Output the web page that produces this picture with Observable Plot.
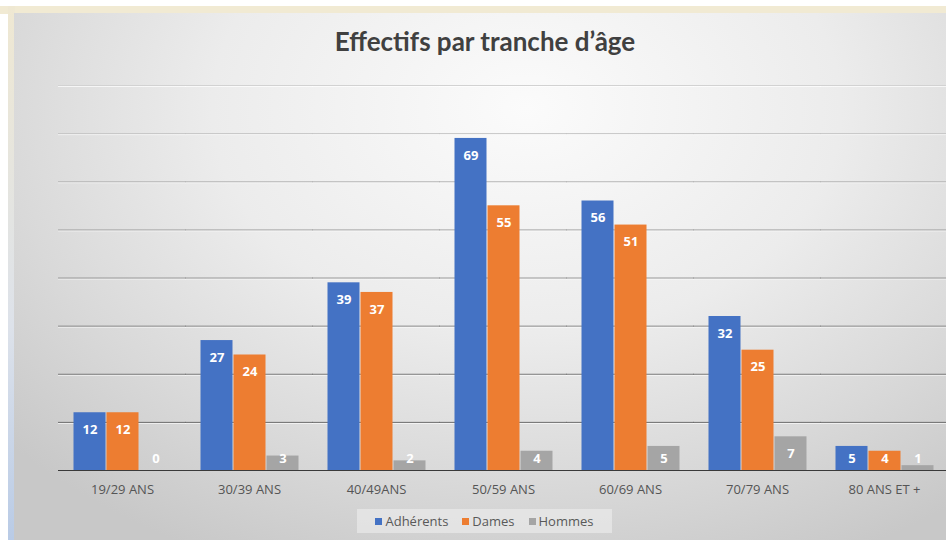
<!DOCTYPE html>
<html>
<head>
<meta charset="utf-8">
<script src="https://cdn.jsdelivr.net/npm/d3@7"></script>
<script src="https://cdn.jsdelivr.net/npm/@observablehq/plot@0.6"></script>
<style>
  html, body { margin: 0; padding: 0; background: #ffffff; }
  #wrap { position: relative; width: 946px; height: 540px; overflow: hidden; background: #ffffff; }
  #topband { position: absolute; left: 0; top: 6px; width: 946px; height: 8px; background: #f1ead3; }
  #leftband { position: absolute; left: 8px; top: 6px; width: 7px; height: 534px; background: linear-gradient(#efe8d2, #dde2ea 60%, #b9cbe6); }
  #panel { position: absolute; left: 14px; top: 13px; width: 932px; height: 527px;
    background: radial-gradient(ellipse 75% 95% at 55% 18%, #fbfbfb 0%, #ececec 45%, #d9d9d9 75%, #c8c8c8 100%); }
  #title { position: absolute; left: 0; top: 25px; width: 970px; text-align: center;
    font-family: Lato, "Open Sans", sans-serif; font-weight: bold; font-size: 26px; color: #404040; }
  #plot { position: absolute; left: 0; top: 0; }
  #legend { position: absolute; left: 357px; top: 509px; width: 255px; height: 24px; background: rgba(240,240,240,0.55);
    display: flex; align-items: center; justify-content: center; gap: 14px;
    font-family: "Open Sans", sans-serif; font-size: 13px; color: #595959; }
  #legend span.sw { display: inline-block; width: 7px; height: 7px; margin-right: 3px; vertical-align: middle; position: relative; top: -1px; }
</style>
</head>
<body>
<div id="wrap">
  <div id="topband"></div>
  <div id="leftband"></div>
  <div id="panel"></div>
  <div id="title">Effectifs par tranche d’âge</div>
  <div id="plot"></div>
  <div id="legend"></div>
</div>
<script>
const categories = ["19/29 ANS", "30/39 ANS", "40/49ANS", "50/59 ANS", "60/69 ANS", "70/79 ANS", "80 ANS ET +"];
const seriesNames = ["Adhérents", "Dames", "Hommes"];
const adherents = [12, 27, 39, 69, 56, 32, 5];
const dames = [12, 24, 37, 55, 51, 25, 4];
const hommes = [0, 3, 2, 4, 5, 7, 1];
const seriesColors = ["#4472c4", "#ed7d31", "#a5a5a5"];
const gridTicks = [10, 20, 30, 40, 50, 60, 70, 80];

const seriesValues = [adherents, dames, hommes];
const data = [];
categories.forEach((c, i) => {
  seriesNames.forEach((s, j) => data.push({age: c, series: s, v: seriesValues[j][i]}));
});

const gridShade = d3.interpolateRgb("#5e5e5e", "#d2d2d2");

const chart = Plot.plot({
  width: 946,
  height: 505,
  marginTop: 85,
  marginBottom: 35,
  marginLeft: 58,
  marginRight: -3,
  style: {background: "transparent", overflow: "visible"},
  fx: {domain: categories, paddingInner: 0.21, paddingOuter: 0.105, label: null},
  x: {domain: seriesNames, padding: 0, axis: null},
  y: {domain: [0, 80], axis: null},
  color: {domain: seriesNames, range: seriesColors},
  marks: [
    Plot.ruleY(gridTicks, {y: d => d, stroke: "#ffffff", strokeOpacity: 0.7, dy: 1, insetLeft: -14, insetRight: -14}),
    Plot.ruleY(gridTicks, {y: d => d, stroke: d => gridShade(d / 80), insetLeft: -14, insetRight: -14}),
    Plot.barY(data, {fx: "age", x: "series", y: "v", fill: "series", insetLeft: 0.5, insetRight: 0.5}),
    Plot.ruleY([0], {stroke: "#3a3a3a", strokeWidth: 1.2, insetLeft: -14, insetRight: -14}),
    Plot.text(data, {fx: "age", x: "series", y: d => Math.max(d.v, 6), dy: 17, text: "v",
      fill: "#ffffff", fontWeight: "bold", fontSize: 13, fontFamily: "Open Sans, sans-serif"}),
    Plot.axisFx({anchor: "bottom", tickSize: 0, tickPadding: 14, fontSize: 13, fill: "#555555",
      fontFamily: "Open Sans, sans-serif", label: null})
  ]
});
document.getElementById("plot").appendChild(chart);

const legend = document.getElementById("legend");
seriesNames.forEach((s, i) => {
  const item = document.createElement("div");
  const sw = document.createElement("span");
  sw.className = "sw";
  sw.style.background = seriesColors[i];
  item.appendChild(sw);
  item.appendChild(document.createTextNode(s));
  legend.appendChild(item);
});
</script>
</body>
</html>
